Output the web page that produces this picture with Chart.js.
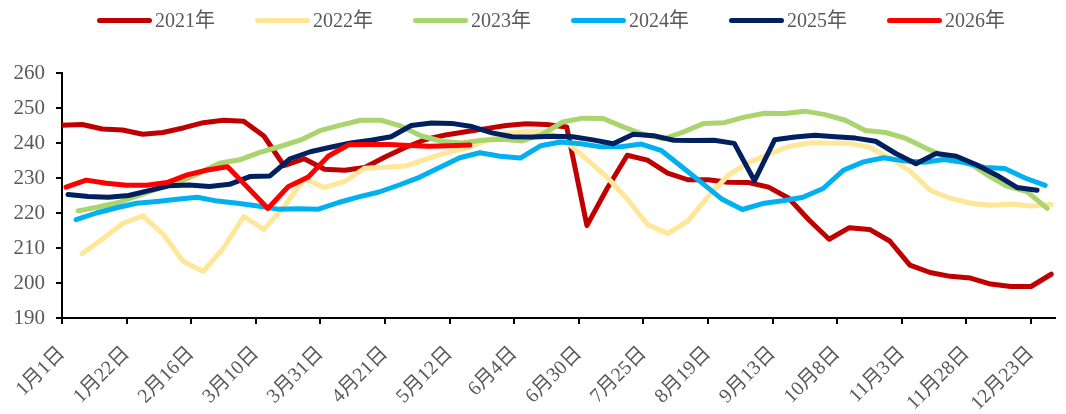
<!DOCTYPE html>
<html lang="zh">
<head>
    <meta charset="UTF-8">
    <title>2021-2026年周度价格走势</title>
    <script src="https://cdn.jsdelivr.net/npm/chart.js"></script>
    <style>
        body {
            margin: 0;
            background: #fff;
        }

        #wrap {
            position: relative;
            width: 1066px;
            height: 414px;
        }

        /* leyenda en HTML, generada desde los datasets */
        #legend {
            position: absolute;
            top: 8px;
            left: 97px;
            display: flex;
            gap: 40px;
        }

        .item {
            display: flex;
            align-items: center;
            font-family: 'Liberation Serif', 'Noto Sans CJK SC', serif;
            font-size: 20px;
            color: #595959;
            line-height: 24px;
        }

        .swatch {
            width: 55px;
            height: 5px;
            border-radius: 3px;
            margin-right: 3px;
        }
    </style>
</head>
<body>

<div id="wrap">
    <div id="legend"></div>
    <canvas id="chart" width="1066" height="414"></canvas>
</div>

<script>
    // eje x: un tick cada 16 dias habiles
    const tickLabels = ['1月1日', '1月22日', '2月16日', '3月10日', '3月31日', '4月21日', '5月12日', '6月4日',
        '6月30日', '7月25日', '8月19日', '9月13日', '10月8日', '11月3日', '11月28日', '12月23日'];
    const daysPerTick = 16;
    const daysPerWeek = 5;

    const years = ['2021年', '2022年', '2023年', '2024年', '2025年', '2026年'];
    // primer dia (habil) de datos de cada año
    const startDays = [0, 5, 4, 3.5, 1.5, 1];

    const v2021 = [245.1, 245.3, 244.0, 243.7, 242.5, 243.0, 244.3, 245.8, 246.5, 246.2,
        242.0, 233.5, 235.5, 232.5, 232.2, 233.0, 236.0, 238.7, 241.0, 242.3,
        243.2, 244.1, 245.0, 245.5, 245.3, 244.6, 216.4, 227.0, 236.5, 235.1,
        231.4, 229.5, 229.5, 228.8, 228.7, 227.4, 224.2, 218.0, 212.5, 215.8,
        215.3, 212.0, 205.1, 203.0, 201.9, 201.4, 199.7, 199.0, 199.0, 202.5];
    const v2022 = [208.4, 212.6, 217.0, 219.2, 214.0, 206.2, 203.3, 210.0, 219.0, 215.3,
        221.8, 229.8, 227.3, 229.0, 232.8, 233.1, 233.4, 235.3, 237.2, 238.5,
        240.6, 242.7, 243.3, 243.2, 240.2, 235.3, 230.2, 224.0, 216.7, 214.1,
        217.7, 224.7, 230.8, 234.4, 236.8, 239.0, 240.0, 240.0, 239.9, 238.8,
        235.8, 232.0, 226.5, 224.2, 222.8, 222.2, 222.6, 222.0, 222.4];
    const v2023 = [220.6, 221.7, 223.0, 225.0, 227.0, 228.9, 231.4, 234.2, 235.2, 237.3,
        239.0, 240.8, 243.6, 245.1, 246.5, 246.5, 244.8, 242.0, 240.5, 240.0,
        240.8, 241.1, 240.6, 242.5, 246.0, 247.1, 247.0, 244.6, 242.5, 241.2,
        243.2, 245.6, 245.8, 247.4, 248.5, 248.4, 249.1, 248.1, 246.5, 243.6,
        243.0, 241.3, 238.5, 235.9, 234.8, 231.0, 227.7, 226.1, 221.3];
    const v2024 = [218.1, 220.0, 221.5, 222.8, 223.3, 223.9, 224.5, 223.4, 222.8, 222.0,
        221.1, 221.2, 221.1, 223.0, 224.6, 226.0, 228.0, 230.2, 233.0, 235.8,
        237.2, 236.2, 235.7, 239.2, 240.3, 239.8, 238.9, 238.9, 239.7, 237.8,
        233.2, 228.6, 223.9, 221.0, 222.7, 223.5, 224.5, 227.0, 232.2, 234.6,
        235.8, 234.9, 234.5, 235.3, 234.4, 233.0, 232.7, 230.0, 227.9];
    const v2025 = [225.3, 224.7, 224.5, 225.0, 226.4, 227.8, 228.0, 227.6, 228.2, 230.4,
        230.6, 235.5, 237.5, 238.8, 240.0, 240.8, 241.8, 245.0, 245.7, 245.6,
        244.7, 242.9, 241.8, 241.7, 241.9, 241.8, 240.9, 239.8, 242.5, 242.1,
        240.8, 240.7, 240.8, 239.9, 229.2, 240.9, 241.7, 242.2, 241.8, 241.4,
        240.5, 237.0, 234.1, 237.0, 236.2, 233.8, 230.8, 227.3, 226.5];
    const v2026 = [227.4, 229.4, 228.5, 227.9, 227.9, 228.7, 230.9, 232.3, 233.2, 227.3,
        221.3, 227.5, 230.3, 236.3, 239.5, 239.6, 239.6, 239.3, 239.1, 239.2, 239.4];

    const seriesValues = [v2021, v2022, v2023, v2024, v2025, v2026];
    const colors = ['#C00000', '#FFE699', '#A9D46E', '#00B0F0', '#002060', '#FF0000'];

    Chart.defaults.font.family = "'Liberation Serif', 'Noto Sans CJK SC', serif";
    Chart.defaults.color = '#595959';

    const datasets = seriesValues.map((vals, s) => ({
        label: years[s],
        data: vals.map((v, i) => ({ x: startDays[s] + i * daysPerWeek, y: v })),
        borderColor: colors[s],
        backgroundColor: colors[s],
        borderWidth: 5,
        borderJoinStyle: 'round',
        borderCapStyle: 'round',
        pointRadius: 0,
        tension: 0,
        order: seriesValues.length - s  // los años recientes encima
    }));

    const chart = new Chart(document.getElementById('chart'), {
        type: 'line',
        data: { datasets: datasets },
        options: {
            responsive: false,
            animation: false,
            layout: { padding: { top: 73, left: 0, right: 0, bottom: 0 } },
            plugins: {
                legend: { display: false },
                tooltip: { enabled: false }
            },
            scales: {
                x: {
                    type: 'linear',
                    min: 0,
                    max: 246,
                    afterBuildTicks: function (scale) {
                        scale.ticks = tickLabels.map((t, i) => ({ value: i * daysPerTick }));
                    },
                    afterFit: function (scale) {
                        scale.height = 96;
                    },
                    ticks: {
                        autoSkip: false,
                        maxRotation: 45,
                        minRotation: 45,
                        padding: 18,
                        font: { size: 20 },
                        callback: function (value, index) {
                            return tickLabels[index];
                        }
                    },
                    grid: {
                        drawOnChartArea: false,
                        color: '#000',
                        lineWidth: 2,
                        tickLength: 6
                    },
                    border: { color: '#000', width: 2 }
                },
                y: {
                    min: 190,
                    max: 260,
                    afterFit: function (scale) {
                        scale.width = 62;
                    },
                    ticks: {
                        stepSize: 10,
                        padding: 11,
                        font: { size: 21 }
                    },
                    grid: {
                        drawOnChartArea: false,
                        color: '#000',
                        lineWidth: 2,
                        tickLength: 6
                    },
                    border: { color: '#000', width: 2 }
                }
            }
        }
    });

    // leyenda
    const legend = document.getElementById('legend');
    chart.data.datasets.forEach(ds => {
        const item = document.createElement('div');
        item.className = 'item';
        const sw = document.createElement('span');
        sw.className = 'swatch';
        sw.style.background = ds.borderColor;
        item.appendChild(sw);
        item.appendChild(document.createTextNode(ds.label));
        legend.appendChild(item);
    });
</script>

</body>
</html>
